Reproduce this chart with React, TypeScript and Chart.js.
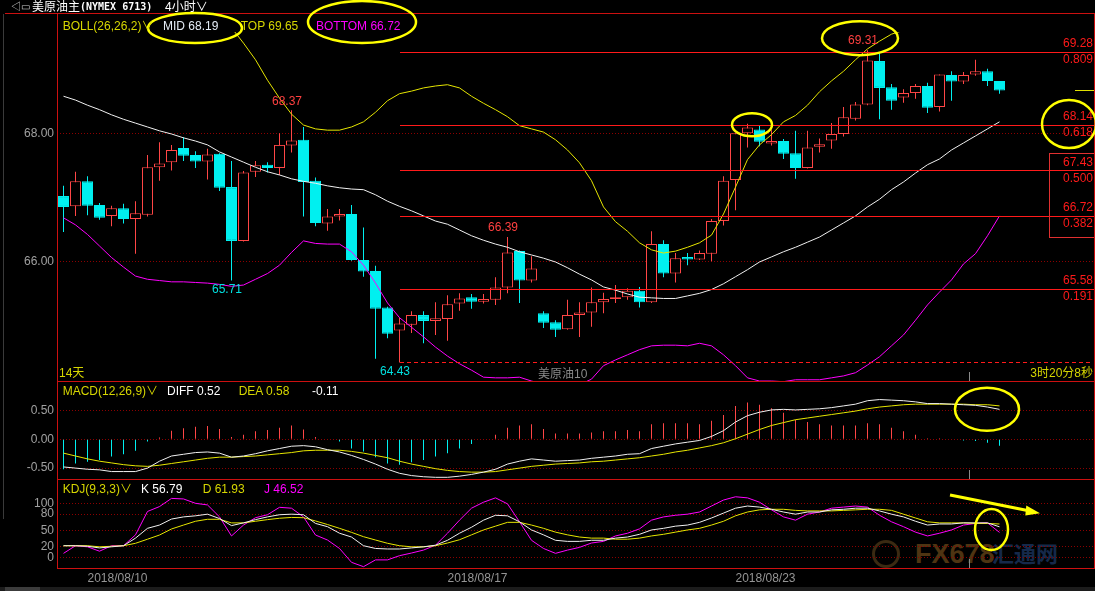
import React, { useEffect, useRef } from "react";
import { Chart, registerables } from "chart.js";

Chart.register(...registerables);

// ---------------- data (4h candles, NYMEX crude) ----------------
const OPEN = [67.03,66.87,67.26,66.89,66.72,66.84,66.67,66.74,67.48,67.56,
  67.78,67.67,67.57,67.69,67.17,66.33,67.41,67.52,67.47,67.82,
  67.91,67.27,66.60,66.71,66.75,66.03,65.86,65.29,64.93,65.02,
  65.17,65.08,65.11,65.35,65.45,65.38,65.41,65.60,66.17,65.71,
  65.20,65.06,64.95,65.17,65.21,65.37,65.42,65.45,65.55,65.37,
  66.28,65.82,66.08,66.04,66.13,66.64,67.28,68.01,68.07,67.85,
  67.89,67.70,67.47,67.80,67.90,68.00,68.24,68.46,69.14,68.73,
  68.57,68.64,68.75,68.42,68.92,68.82,68.93,68.98,68.83];
const HIGH = [67.19,67.41,67.34,66.92,66.88,66.91,66.95,67.67,67.87,67.83,
  67.95,67.73,67.77,67.70,67.58,67.42,67.58,67.56,68.01,68.37,
  68.11,67.32,66.83,66.83,66.89,66.54,65.94,65.30,65.13,65.23,
  65.23,65.37,65.48,65.51,65.50,65.50,65.76,66.39,66.18,66.09,
  65.23,65.09,65.41,65.37,65.60,65.52,65.64,65.59,65.61,66.48,
  66.34,66.14,66.14,66.18,66.67,67.34,68.01,68.16,68.13,68.06,
  67.92,68.05,68.05,67.93,68.17,68.42,68.50,69.31,69.26,68.78,
  68.70,68.78,68.80,68.93,68.98,68.97,69.16,69.02,68.83];
const LOW = [66.47,66.72,66.73,66.66,66.56,66.60,66.13,66.71,67.27,67.43,
  67.58,67.47,67.29,67.11,65.71,66.32,67.33,67.40,67.36,67.71,
  66.71,66.56,66.49,66.65,66.02,65.77,64.49,64.81,64.43,64.89,
  64.73,64.86,64.77,65.24,65.27,65.35,65.33,65.51,65.36,65.68,
  64.97,64.83,64.94,64.83,64.99,65.20,65.36,65.41,65.29,65.36,
  65.76,65.68,65.95,66.03,66.01,66.57,66.81,67.79,67.81,67.82,
  67.61,67.30,67.46,67.71,67.77,67.96,68.21,68.45,68.23,68.38,
  68.49,68.55,68.33,68.35,68.52,68.78,68.91,68.75,68.63];
const CLOSE = [66.86,67.26,66.88,66.69,66.84,66.67,66.76,67.48,67.54,67.75,
  67.66,67.57,67.68,67.16,66.33,67.40,67.51,67.47,67.83,67.90,
  67.25,66.61,66.71,66.75,66.03,65.85,65.27,64.88,65.04,65.17,
  65.08,65.12,65.34,65.43,65.38,65.42,65.60,66.15,65.71,65.90,
  65.05,64.94,65.17,65.21,65.37,65.42,65.45,65.55,65.37,66.28,
  65.82,66.06,66.04,66.14,66.64,67.27,68.01,68.10,67.88,67.89,
  67.69,67.47,67.79,67.84,68.00,68.26,68.46,69.15,68.72,68.52,
  68.64,68.75,68.41,68.93,68.82,68.92,68.98,68.83,68.68];

const BOLL_MID = [68.59,68.53,68.45,68.38,68.30,68.23,68.17,68.11,68.05,68.00,
  67.94,67.89,67.83,67.72,67.64,67.56,67.48,67.41,67.36,67.30,
  67.26,67.23,67.19,67.16,67.14,67.13,67.05,66.95,66.87,66.80,
  66.72,66.64,66.59,66.50,66.41,66.34,66.28,66.23,66.16,66.11,
  66.06,66.00,65.91,65.81,65.72,65.61,65.56,65.50,65.45,65.44,
  65.43,65.43,65.47,65.51,65.57,65.66,65.77,65.88,66.00,66.08,
  66.16,66.23,66.31,66.39,66.50,66.61,66.72,66.86,66.98,67.13,
  67.25,67.39,67.52,67.61,67.75,67.86,67.97,68.08,68.19];
const BOLL_TOP = [70.50,70.48,70.48,70.50,70.52,70.53,70.56,70.48,70.38,70.30,
  70.19,70.10,69.98,69.81,69.66,69.42,69.16,68.84,68.56,68.31,
  68.14,68.08,68.06,68.06,68.11,68.19,68.34,68.52,68.63,68.67,
  68.72,68.75,68.77,68.72,68.59,68.48,68.38,68.27,68.13,68.08,
  68.03,67.91,67.75,67.55,67.27,66.86,66.63,66.48,66.30,66.19,
  66.14,66.17,66.23,66.30,66.42,66.75,67.17,67.60,67.83,67.99,
  68.19,68.29,68.45,68.66,68.83,68.98,69.16,69.33,69.45,69.56,
  69.62,69.66,69.69,69.70,69.71,69.71,69.70,69.68,69.65];
const BOLL_BOTTOM = [66.69,66.58,66.43,66.25,66.07,65.92,65.78,65.73,65.71,65.69,
  65.69,65.68,65.67,65.65,65.62,65.64,65.73,65.82,65.95,66.15,
  66.33,66.29,66.28,66.28,66.16,65.95,65.67,65.36,65.13,64.98,
  64.83,64.67,64.53,64.41,64.31,64.20,64.19,64.19,64.20,64.14,
  64.09,64.09,64.06,64.08,64.17,64.38,64.47,64.55,64.63,64.69,
  64.70,64.70,64.69,64.73,64.69,64.55,64.38,64.19,64.14,64.14,
  64.13,64.16,64.16,64.16,64.19,64.22,64.27,64.39,64.52,64.69,
  64.86,65.09,65.33,65.53,65.72,65.97,66.13,66.41,66.72];

const DIFF = [-0.48,-0.50,-0.52,-0.53,-0.56,-0.56,-0.56,-0.50,-0.38,-0.29,
  -0.26,-0.23,-0.22,-0.24,-0.31,-0.29,-0.25,-0.20,-0.16,-0.12,
  -0.11,-0.13,-0.18,-0.22,-0.28,-0.35,-0.43,-0.52,-0.59,-0.63,
  -0.65,-0.66,-0.66,-0.64,-0.61,-0.57,-0.52,-0.43,-0.38,-0.34,
  -0.36,-0.38,-0.37,-0.36,-0.33,-0.31,-0.29,-0.26,-0.25,-0.16,
  -0.12,-0.08,-0.05,-0.02,0.05,0.15,0.30,0.41,0.47,0.51,
  0.52,0.51,0.52,0.53,0.55,0.58,0.61,0.67,0.69,0.68,
  0.67,0.65,0.62,0.62,0.61,0.60,0.59,0.56,0.52];
const DEA = [-0.24,-0.29,-0.34,-0.38,-0.41,-0.44,-0.46,-0.47,-0.45,-0.42,
  -0.39,-0.36,-0.33,-0.31,-0.31,-0.30,-0.29,-0.27,-0.25,-0.23,
  -0.20,-0.19,-0.19,-0.19,-0.21,-0.24,-0.28,-0.32,-0.38,-0.43,
  -0.47,-0.51,-0.54,-0.56,-0.57,-0.57,-0.56,-0.53,-0.50,-0.47,
  -0.45,-0.43,-0.42,-0.41,-0.39,-0.38,-0.36,-0.34,-0.32,-0.29,
  -0.26,-0.22,-0.19,-0.15,-0.11,-0.06,0.01,0.09,0.17,0.24,
  0.29,0.34,0.37,0.40,0.43,0.46,0.49,0.53,0.56,0.58,
  0.60,0.61,0.61,0.61,0.61,0.61,0.60,0.60,0.58];
const MACD_BAR = [-0.52,-0.42,-0.39,-0.36,-0.30,-0.26,-0.20,-0.04,0.03,0.15,
  0.19,0.22,0.23,0.18,0.04,0.08,0.14,0.16,0.20,0.24,
  0.17,0.04,0.01,-0.04,-0.16,-0.21,-0.31,-0.42,-0.44,-0.40,
  -0.36,-0.30,-0.24,-0.16,-0.08,0.00,0.08,0.20,0.24,0.26,
  0.18,0.10,0.10,0.10,0.12,0.14,0.14,0.16,0.14,0.26,
  0.28,0.28,0.28,0.26,0.32,0.42,0.58,0.64,0.60,0.54,
  0.46,0.34,0.30,0.26,0.24,0.24,0.24,0.28,0.26,0.20,
  0.14,0.08,0.02,0.02,0.00,-0.02,-0.03,-0.06,-0.11];

const KDJ_K = [22,22,21,18,20,22,36,54,60,71,
  75,77,80,72,59,64,70,75,79,80,
  79,63,57,45,38,22,17,16,16,18,
  20,23,32,45,56,69,78,77,66,51,
  42,32,30,30,32,32,36,38,43,51,
  54,58,60,65,73,82,91,95,93,89,
  84,80,84,84,88,89,91,91,86,80,
  75,67,60,62,62,64,64,64,56.79];
const KDJ_D = [22,22,22,20,21,22,26.5,34,41.7,52.8,
  60,67,70.6,70.6,64,64,67,70,72.5,74,
  73.5,67.5,61,54,46.6,38.6,32.5,26.5,22,20,
  20,22,27,33,42,51,58,65,65,60,
  54,47,42,38,36,36,34,34,36,40,
  43,47,51,54,60,67,77,84,88,89,
  89,87,86,86,86,87,88,89,89,87,
  80,73,66,64,64,64,63,63,61.93];
const KDJ_J = [8,22,20,12,22,22,42,85,94,109,
  108,100,97,75,40,60,73.5,79,92.6,91,
  75,41.7,32.5,17,-8.5,-16.5,-4,-4,3.7,8.6,
  14,23,45,69,91,102,110,99,66,32,
  17,8,14,19,27,30,40,45,53,69,
  75,78,80,84,95,106,112,110,102,88,
  75,69,80,84,91,93,95,93,78,66,
  57,47,40,45,51,60,63,64,46.52];

const DATE_TICKS = [4.5, 34.5, 58.5];
const DATE_LABELS = ["2018/08/10", "2018/08/17", "2018/08/23"];
const PRICE_TICKS = [66, 68];
const MACD_TICKS = [-0.5, 0, 0.5];
const KDJ_TICKS = [0, 20, 50, 80, 100];
const FIB_PRICES = [69.28, 68.14, 67.43, 66.72, 65.58];
const FIB_RATIOS = ["0.809", "0.618", "0.500", "0.382", "0.191"];
const FIB_START = 28;
const SWING_LOW = 64.43;
const MARK_INDEX = [19, 14, 28, 37, 67];
const MARK_IS_HIGH = [true, false, false, true, true];
const CURSOR_INDEX = 75.5;
const BOX_RANGE = [67.71, 66.39];

// ---------------- styling ----------------
const N = OPEN.length;
const X_MIN = -0.5417;
const X_MAX = 85.875;
const HEADER_STRIP = 32; // main panel: lines are hidden behind the indicator title row
const FF = '"Liberation Sans", Arial, "Noto Sans CJK SC", sans-serif';
const COL = {
  red: "#ff4646", cyan: "#00f0f0", white: "#f0f0f0", yellow: "#e6e600", magenta: "#ff00ff",
  frame: "#cc1010", grid: "#8c0000", tick: "#a0a0a0", fib: "#ff1a1a", anno: "#ffff00",
  hdrYellow: "#d6d600",
};

const pts = (arr: number[]) => arr.map((v, i) => ({ x: i, y: v }));

function yAxis(min: number, max: number, ticks: number[], fmt: (v: number) => string) {
  return {
    type: "linear", position: "left", min, max,
    afterBuildTicks: (s: any) => { s.ticks = ticks.map((v) => ({ value: v })); },
    afterFit: (s: any) => { s.width = 57; s.paddingTop = 0; s.paddingBottom = 0; },
    ticks: { color: COL.tick, font: { family: FF, size: 12 }, padding: 3, callback: (v: any) => fmt(Number(v)) },
    grid: { color: COL.grid, lineWidth: 1, drawTicks: false },
    border: { display: false, dash: [1, 2] },
  };
}
const hiddenX = () => ({ type: "linear", min: X_MIN, max: X_MAX, offset: false, display: false, grid: { display: false } });

function line(ctx: CanvasRenderingContext2D, x1: number, y1: number, x2: number, y2: number) {
  ctx.beginPath(); ctx.moveTo(x1, y1); ctx.lineTo(x2, y2); ctx.stroke();
}
function ellipse(ctx: CanvasRenderingContext2D, cx: number, cy: number, rx: number, ry: number) {
  ctx.save(); ctx.strokeStyle = COL.anno; ctx.lineWidth = 2.5;
  ctx.beginPath(); ctx.ellipse(cx, cy, rx, ry, 0, 0, Math.PI * 2); ctx.stroke(); ctx.restore();
}
function frame(chart: any) {
  const { ctx, chartArea: ca } = chart;
  ctx.save(); ctx.strokeStyle = COL.frame; ctx.lineWidth = 1;
  const l = Math.round(ca.left), t = Math.round(ca.top), r = Math.round(ca.right), b = Math.round(ca.bottom);
  ctx.strokeRect(l + 0.5, t + 0.5, r - l, b - t);
  ctx.restore();
}
function cursor(chart: any) {
  const { ctx, chartArea: ca, scales } = chart;
  const x = Math.floor(scales.x.getPixelForValue(CURSOR_INDEX)) + 0.5;
  ctx.save(); ctx.strokeStyle = "#8a8a8a"; ctx.lineWidth = 1;
  line(ctx, x, ca.bottom - 9, x, ca.bottom); ctx.restore();
}

const baseOptions = {
  animation: false, responsive: false, devicePixelRatio: 1, events: [],
  plugins: { legend: { display: false }, tooltip: { enabled: false } },
};

function mainConfig(): any {
  const up = OPEN.map((o, i) => CLOSE[i] >= o);
  const colors = up.map((u) => (u ? COL.red : COL.cyan));
  const plugin = {
    id: "mainAnno",
    beforeDatasetsDraw(chart: any) {
      const { ctx, chartArea: ca } = chart;
      ctx.save();
      ctx.beginPath();
      ctx.rect(ca.left, HEADER_STRIP, ca.right - ca.left, ca.bottom - HEADER_STRIP);
      ctx.clip();
    },
    afterDatasetsDraw(chart: any) {
      const { ctx, chartArea: ca, scales: { x, y } } = chart;
      ctx.restore();
      ctx.save();
      const x0 = Math.round(x.getPixelForValue(FIB_START));
      ctx.strokeStyle = COL.fib; ctx.lineWidth = 1;
      FIB_PRICES.forEach((p) => { const py = Math.round(y.getPixelForValue(p)) + 0.5; line(ctx, x0, py, ca.right, py); });
      ctx.setLineDash([4, 3]);
      const ly = Math.round(y.getPixelForValue(SWING_LOW)) + 0.5;
      line(ctx, x0, ly, ca.right - 4, ly);
      ctx.setLineDash([]);
      ctx.font = `12px ${FF}`; ctx.textAlign = "right"; ctx.textBaseline = "middle"; ctx.fillStyle = COL.fib;
      FIB_PRICES.forEach((p, k) => {
        const py = y.getPixelForValue(p);
        ctx.fillText(p.toFixed(2), ca.right - 1, py - 8);
        ctx.fillText(FIB_RATIOS[k], ca.right - 1, py + 8);
      });
      ctx.strokeStyle = "#e03030";
      const bt = Math.round(y.getPixelForValue(BOX_RANGE[0])) + 0.5;
      const bb = Math.round(y.getPixelForValue(BOX_RANGE[1])) + 0.5;
      ctx.strokeRect(ca.right - 44.5, bt, 45, bb - bt);
      ctx.strokeStyle = "#e0e000";
      const lp = Math.round(y.getPixelForValue(CLOSE[N - 1])) + 0.5;
      line(ctx, ca.right - 19, lp, ca.right, lp);
      ctx.textAlign = "center";
      MARK_INDEX.forEach((i, k) => {
        const hi = MARK_IS_HIGH[k];
        const v = hi ? HIGH[i] : LOW[i];
        ctx.fillStyle = hi ? "#ff4040" : "#00e0e0";
        ctx.fillText(v.toFixed(2), x.getPixelForValue(i) - 4.5, y.getPixelForValue(v) + (hi ? -9 : 9));
      });
      ctx.restore();
    },
    afterDraw(chart: any) {
      const { ctx, chartArea: ca, scales: { x, y } } = chart;
      frame(chart);
      ctx.save(); ctx.strokeStyle = COL.frame; ctx.lineWidth = 1;
      line(ctx, 5, Math.round(ca.top) + 0.5, ca.left, Math.round(ca.top) + 0.5);
      ctx.restore();
      cursor(chart);
      ellipse(ctx, 195, 28, 47, 15);
      ellipse(ctx, 362, 22, 54, 21);
      ellipse(ctx, x.getPixelForValue(67) - 7.5, y.getPixelForValue(HIGH[67]) - 12, 38, 17);
      ellipse(ctx, x.getPixelForValue(57) + 4.5, y.getPixelForValue(HIGH[57]) + 1, 20, 11.5);
      ellipse(ctx, ca.right - 25, y.getPixelForValue(FIB_PRICES[1]) - 1, 27, 24);
    },
  };
  return {
    type: "bar",
    data: {
      datasets: [
        { type: "line", label: "MID", data: pts(BOLL_MID), borderColor: COL.white, borderWidth: 1, pointRadius: 0, order: 0 },
        { type: "line", label: "TOP", data: pts(BOLL_TOP), borderColor: COL.yellow, borderWidth: 1, pointRadius: 0, order: 0 },
        { type: "line", label: "BOTTOM", data: pts(BOLL_BOTTOM), borderColor: COL.magenta, borderWidth: 1, pointRadius: 0, order: 0 },
        {
          type: "bar", label: "body", data: OPEN.map((o, i) => ({ x: i, y: [o, CLOSE[i]] })),
          backgroundColor: up.map((u) => (u ? "#000000" : COL.cyan)), borderColor: colors, borderWidth: 1,
          borderSkipped: false, inflateAmount: 0, grouped: false, barPercentage: 1, categoryPercentage: 1,
          maxBarThickness: 11, order: 2,
        },
        {
          type: "bar", label: "wick", data: LOW.map((l, i) => ({ x: i, y: [l, HIGH[i]] })),
          backgroundColor: colors, borderWidth: 0, inflateAmount: 0, grouped: false,
          barPercentage: 1, categoryPercentage: 1, maxBarThickness: 1, order: 3,
        },
      ],
    },
    options: {
      ...baseOptions,
      layout: { padding: { top: 13, right: 1, bottom: 1, left: 0 } },
      scales: { x: hiddenX(), y: yAxis(64.1406, 69.8906, PRICE_TICKS, (v) => v.toFixed(2)) },
    },
    plugins: [plugin],
  };
}

function macdConfig(): any {
  const plugin = {
    id: "macdAnno",
    afterDraw(chart: any) {
      const { ctx, scales: { x, y } } = chart;
      frame(chart); cursor(chart);
      ellipse(ctx, x.getPixelForValue(N - 1) - 12.5, y.getPixelForValue(DIFF[N - 1]), 32, 21.5);
    },
  };
  return {
    type: "bar",
    data: {
      datasets: [
        { type: "line", label: "DIFF", data: pts(DIFF), borderColor: COL.white, borderWidth: 1, pointRadius: 0, order: 0 },
        { type: "line", label: "DEA", data: pts(DEA), borderColor: COL.yellow, borderWidth: 1, pointRadius: 0, order: 0 },
        {
          type: "bar", label: "MACD", data: pts(MACD_BAR),
          backgroundColor: MACD_BAR.map((v) => (v >= 0 ? COL.red : COL.cyan)), borderWidth: 0, inflateAmount: 0,
          grouped: false, barPercentage: 1, categoryPercentage: 1, maxBarThickness: 1, order: 1,
        },
      ],
    },
    options: {
      ...baseOptions,
      layout: { padding: { top: 0, right: 1, bottom: 1, left: 0 } },
      scales: { x: hiddenX(), y: yAxis(-0.6892, 1.0122, MACD_TICKS, (v) => v.toFixed(2)) },
    },
    plugins: [plugin],
  };
}

function kdjConfig(): any {
  const plugin = {
    id: "kdjAnno",
    afterDraw(chart: any) {
      const { ctx, scales: { x, y } } = chart;
      frame(chart); cursor(chart);
      const lx = x.getPixelForValue(N - 1);
      ellipse(ctx, lx - 8, y.getPixelForValue(KDJ_K[N - 1]) + 2.7, 16.5, 20.5);
      ctx.save();
      ctx.strokeStyle = COL.anno; ctx.fillStyle = COL.anno; ctx.lineWidth = 3;
      line(ctx, lx - 49.5, 16, lx + 28, 31.5);
      ctx.beginPath();
      ctx.moveTo(lx + 40.5, 34.3); ctx.lineTo(lx + 26.8, 26.6); ctx.lineTo(lx + 25.8, 36.4); ctx.closePath(); ctx.fill();
      ctx.restore();
    },
  };
  return {
    type: "line",
    data: {
      datasets: [
        { label: "K", data: pts(KDJ_K), borderColor: COL.white, borderWidth: 1, pointRadius: 0 },
        { label: "D", data: pts(KDJ_D), borderColor: COL.yellow, borderWidth: 1, pointRadius: 0 },
        { label: "J", data: pts(KDJ_J), borderColor: COL.magenta, borderWidth: 1, pointRadius: 0 },
      ],
    },
    options: {
      ...baseOptions,
      layout: { padding: { top: 0, right: 1, bottom: 0, left: 0 } },
      scales: {
        x: {
          type: "linear", min: X_MIN, max: X_MAX, offset: false, display: true,
          grid: { display: false, drawTicks: false }, border: { display: false },
          afterBuildTicks: (s: any) => { s.ticks = DATE_TICKS.map((v) => ({ value: v })); },
          afterFit: (s: any) => { s.height = 20; s.paddingLeft = 0; s.paddingRight = 0; },
          ticks: {
            color: "#959595", font: { family: FF, size: 12 }, padding: 3, autoSkip: false, maxRotation: 0, minRotation: 0,
            callback: (_v: any, i: number) => DATE_LABELS[i],
          },
        },
        y: yAxis(-18.93, 144.67, KDJ_TICKS, (v) => String(Math.round(v))),
      },
    },
    plugins: [plugin],
  };
}

function Txt(props: { x: number; y: number; c: string; s?: number; right?: boolean; bold?: boolean; ff?: string; children: any }) {
  const { x, y, c, s = 12, right, bold, ff, children } = props;
  return (
    <div style={{
      position: "absolute", top: y - 8, lineHeight: "16px", fontSize: s, color: c, whiteSpace: "nowrap",
      fontFamily: ff || FF, fontWeight: bold ? "bold" : "normal",
      ...(right ? { right: 1095 - x } : { left: x }),
    }}>{children}</div>
  );
}

export default function App() {
  const mainRef = useRef<HTMLCanvasElement>(null);
  const macdRef = useRef<HTMLCanvasElement>(null);
  const kdjRef = useRef<HTMLCanvasElement>(null);

  useEffect(() => {
    const charts = [
      new Chart(mainRef.current as HTMLCanvasElement, mainConfig()),
      new Chart(macdRef.current as HTMLCanvasElement, macdConfig()),
      new Chart(kdjRef.current as HTMLCanvasElement, kdjConfig()),
    ];
    return () => charts.forEach((c) => c.destroy());
  }, []);

  const last = N - 1;
  const cv = { position: "absolute" as const, left: 0 };
  return (
    <div style={{ position: "fixed", left: 0, top: 0, width: 1095, height: 591, background: "#000", overflow: "hidden" }}>
      <div style={{ position: "absolute", left: 3, top: 14, width: 1, height: 505, background: "#3a3a3a" }} />
      <div style={{ position: "absolute", left: 885 - 13, top: 553 - 13, width: 22, height: 22, borderRadius: 14, border: "3px solid #3a2a12" }} />
      <Txt x={915} y={554} c="#4e3412" s={27} bold>FX678</Txt>
      <Txt x={992} y={555} c="#15294a" s={22} bold>汇通网</Txt>

      <canvas ref={mainRef} width={1095} height={382} style={{ ...cv, top: 0 }} />
      <canvas ref={macdRef} width={1095} height={99} style={{ ...cv, top: 381 }} />
      <canvas ref={kdjRef} width={1095} height={109} style={{ ...cv, top: 479 }} />

      <Txt x={11} y={7} c="#d0d0d0" s={10}>◁▭</Txt>
      <Txt x={32} y={7} c="#ffffff">美原油主</Txt>
      <Txt x={80} y={7} c="#ffffff" s={10} bold ff='"DejaVu Sans Mono", monospace'>(NYMEX 6713)</Txt>
      <Txt x={165} y={7} c="#ffffff">4小时∨</Txt>

      <Txt x={62.7} y={26} c={COL.hdrYellow}>BOLL(26,26,2)∨</Txt>
      <Txt x={163} y={26} c="#e4ecf6">{`MID ${BOLL_MID[last].toFixed(2)}`}</Txt>
      <Txt x={240.7} y={26} c={COL.hdrYellow}>{`TOP ${BOLL_TOP[last].toFixed(2)}`}</Txt>
      <Txt x={316} y={26} c="#ff00ff">{`BOTTOM ${BOLL_BOTTOM[last].toFixed(2)}`}</Txt>

      <Txt x={59} y={372.5} c={COL.hdrYellow}>14天</Txt>
      <Txt x={538} y={374} c="#8a8a8a">美原油10</Txt>
      <Txt x={1093} y={372.5} c={COL.hdrYellow} right>3时20分8秒</Txt>

      <Txt x={62.7} y={391} c={COL.hdrYellow}>MACD(12,26,9)∨</Txt>
      <Txt x={167} y={391} c="#ffffff">{`DIFF ${DIFF[last].toFixed(2)}`}</Txt>
      <Txt x={238.7} y={391} c={COL.hdrYellow}>{`DEA ${DEA[last].toFixed(2)}`}</Txt>
      <Txt x={312} y={391} c="#ffffff">{MACD_BAR[last].toFixed(2)}</Txt>

      <Txt x={62.7} y={489} c={COL.hdrYellow}>KDJ(9,3,3)∨</Txt>
      <Txt x={141} y={489} c="#ffffff">{`K ${KDJ_K[last].toFixed(2)}`}</Txt>
      <Txt x={202.7} y={489} c={COL.hdrYellow}>{`D ${KDJ_D[last].toFixed(2)}`}</Txt>
      <Txt x={264} y={489} c="#ff00ff">{`J ${KDJ_J[last].toFixed(2)}`}</Txt>

      <div style={{ position: "absolute", left: 0, top: 587, width: 1095, height: 4, background: "#1c1c1c" }} />
      <div style={{ position: "absolute", left: 5, top: 587, width: 35, height: 4, background: "#3c3c3c" }} />
    </div>
  );
}
